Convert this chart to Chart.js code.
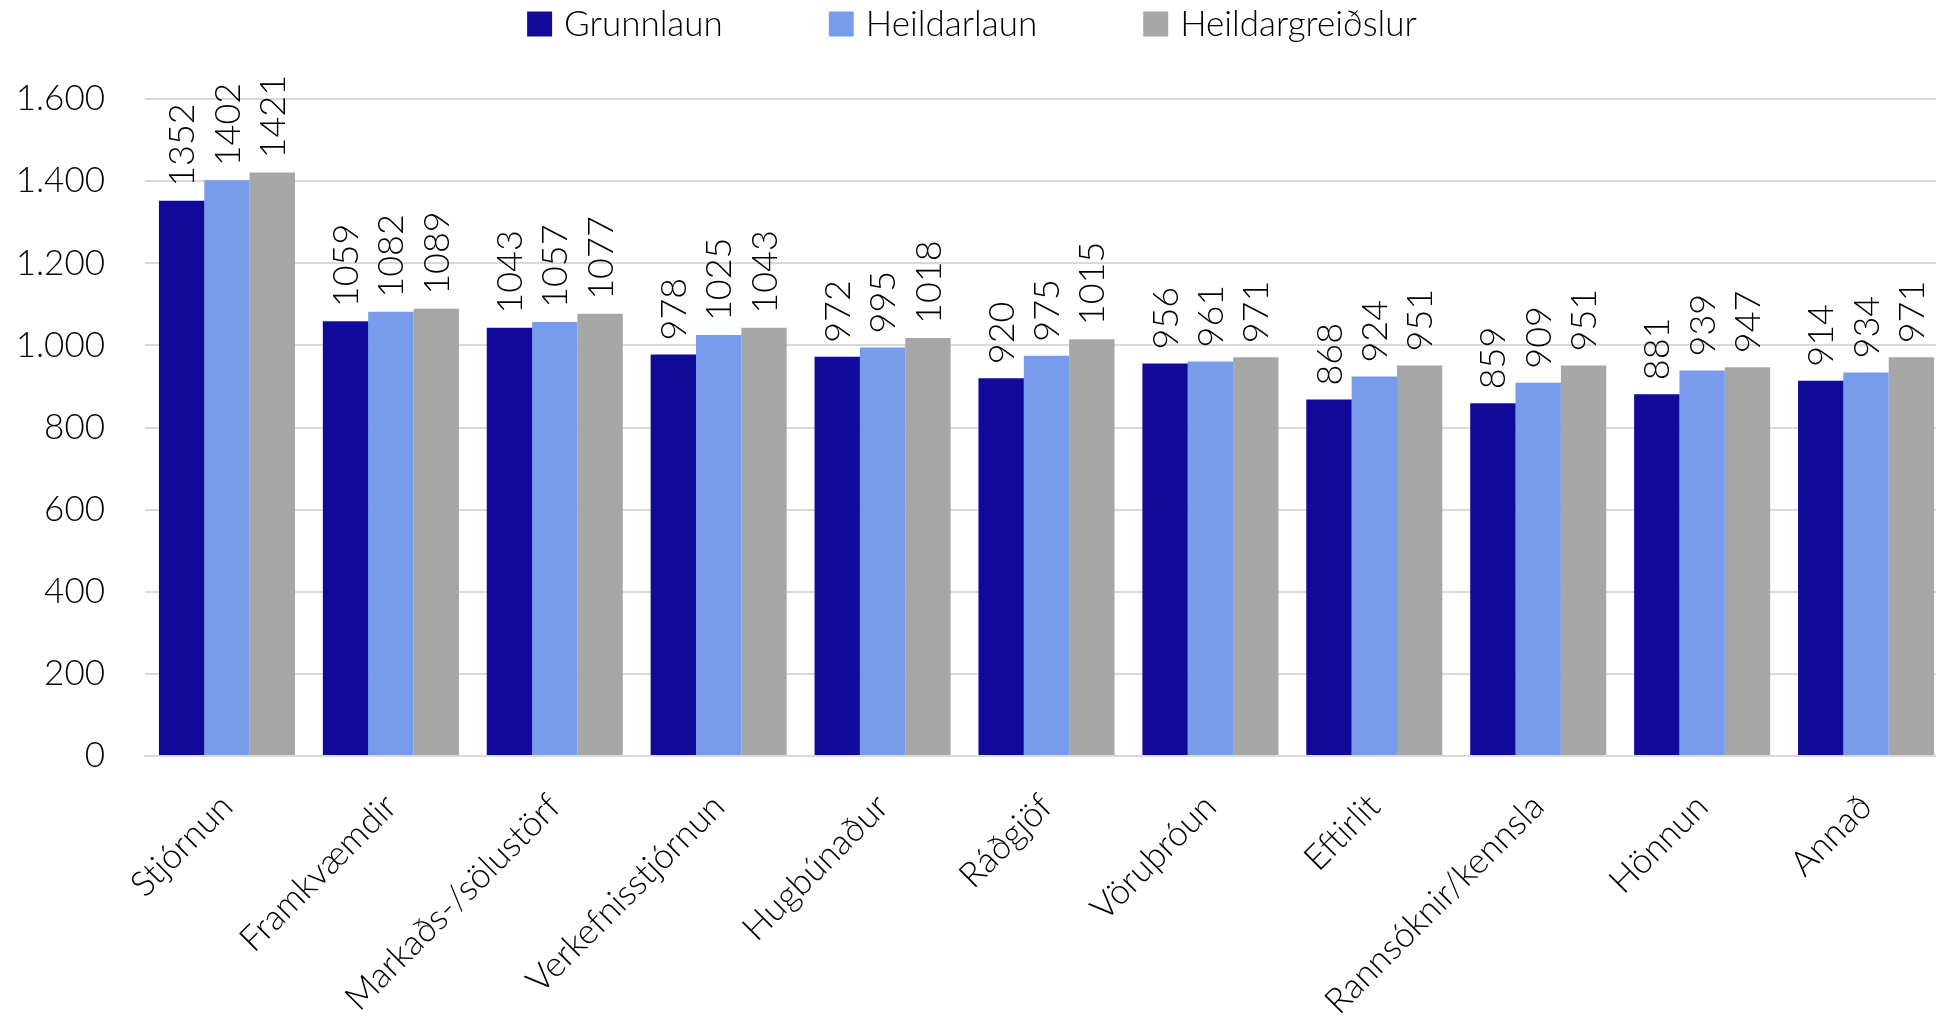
<!DOCTYPE html>
<html>
<head>
<meta charset="utf-8">
<script src="https://cdn.jsdelivr.net/npm/chart.js@4.4.1/dist/chart.umd.min.js"></script>
<style>
  html, body { margin: 0; padding: 0; background: #fff; overflow: hidden; }
  #wrap { width: 1936px; height: 1020px; overflow: hidden; }
</style>
</head>
<body>
<div id="wrap"><canvas id="myChart" width="1948" height="1020"></canvas></div>
<script>
"use strict";
const categories = ["Stjórnun", "Framkvæmdir", "Markaðs-/sölustörf", "Verkefnisstjórnun", "Hugbúnaður", "Ráðgjöf", "Vöruþróun", "Eftirlit", "Rannsóknir/kennsla", "Hönnun", "Annað"];
const grunnlaun = [1352, 1059, 1043, 978, 972, 920, 956, 868, 859, 881, 914];
const heildarlaun = [1402, 1082, 1057, 1025, 995, 975, 961, 924, 909, 939, 934];
const heildargreidslur = [1421, 1089, 1077, 1043, 1018, 1015, 971, 951, 951, 947, 971];
const seriesNames = ["Grunnlaun", "Heildarlaun", "Heildargreiðslur"];
const yTicks = [0, 200, 400, 600, 800, 1000, 1200, 1400, 1600];

const colors = ["#110a99", "#789ceb", "#a6a6a6"];
const FONT = "Lato, 'Liberation Sans', sans-serif";
const VISIBLE_WIDTH = 1936; // the canvas runs a little past the window, like the original

// thousand separator with a dot, as in the original
const fmt = (v) => String(v).replace(/\B(?=(\d{3})+(?!\d))/g, ".");

// vertical value labels above each bar
const barLabels = {
  id: "barLabels",
  afterDatasetsDraw(chart) {
    const ctx = chart.ctx;
    ctx.save();
    ctx.font = "300 36px " + FONT;
    ctx.fillStyle = "#000";
    ctx.textAlign = "left";
    ctx.textBaseline = "middle";
    chart.data.datasets.forEach((ds, i) => {
      chart.getDatasetMeta(i).data.forEach((bar, j) => {
        ctx.save();
        ctx.translate(bar.x, bar.y - 14);
        ctx.rotate(-Math.PI / 2);
        ctx.fillText(String(ds.data[j]), 0, 1);
        ctx.restore();
      });
    });
    ctx.restore();
  },
};

// legend drawn by hand so the spacing between items can be wide
const topLegend = {
  id: "topLegend",
  afterDraw(chart) {
    const ctx = chart.ctx;
    const box = 25, gap = 12, itemGap = 106, cy = 24;
    ctx.save();
    ctx.font = "300 35px " + FONT;
    const widths = chart.data.datasets.map((ds) => box + gap + ctx.measureText(ds.label).width);
    const total = widths.reduce((a, w) => a + w, 0) + itemGap * (widths.length - 1);
    let x = (VISIBLE_WIDTH - total) / 2 + 4;
    ctx.textAlign = "left";
    ctx.textBaseline = "middle";
    chart.data.datasets.forEach((ds, i) => {
      ctx.fillStyle = ds.backgroundColor;
      ctx.fillRect(x, cy - box / 2, box, box);
      ctx.fillStyle = "#000";
      ctx.fillText(ds.label, x + box + gap, cy + 1);
      x += widths[i] + itemGap;
    });
    ctx.restore();
  },
};

new Chart(document.getElementById("myChart"), {
  type: "bar",
  data: {
    labels: categories,
    datasets: [grunnlaun, heildarlaun, heildargreidslur].map((d, i) => ({
      label: seriesNames[i],
      data: d,
      backgroundColor: colors[i],
      borderWidth: 0,
      barPercentage: 1.0,
      categoryPercentage: 0.83,
    })),
  },
  options: {
    responsive: false,
    animation: false,
    layout: { padding: { top: 99, left: 0, right: 0, bottom: 0 } },
    plugins: {
      legend: { display: false },
      tooltip: { enabled: false },
    },
    scales: {
      x: {
        grid: { display: false, drawTicks: false },
        border: { display: true, color: "#d9d9d9", width: 2 },
        ticks: {
          color: "#000",
          font: { family: FONT, size: 35, weight: "300" },
          minRotation: 45,
          maxRotation: 45,
          padding: 30,
          autoSkip: false,
        },
        afterFit(scale) {
          scale.height = 264;
        },
      },
      y: {
        min: 0,
        max: 1600,
        afterBuildTicks(scale) {
          scale.ticks = yTicks.map((v) => ({ value: v }));
        },
        grid: { color: "#d9d9d9", lineWidth: 2, drawTicks: false },
        border: { display: false },
        ticks: {
          color: "#000",
          font: { family: FONT, size: 35, weight: "300" },
          padding: 40,
          callback: (v) => fmt(v),
        },
        afterFit(scale) {
          scale.width = 145;
        },
      },
    },
  },
  plugins: [barLabels, topLegend],
});
</script>
</body>
</html>
